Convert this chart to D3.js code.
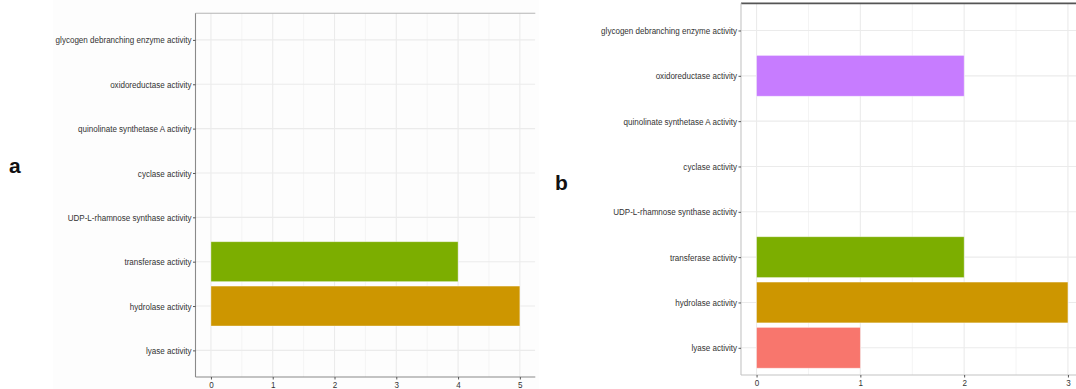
<!DOCTYPE html>
<html>
<head>
<meta charset="utf-8">
<script src="https://cdn.jsdelivr.net/npm/d3@7"></script>
<style>
  html, body { margin: 0; padding: 0; background: #ffffff; }
  svg { display: block; }
  text { font-family: "Liberation Sans", Arial, sans-serif; }
</style>
</head>
<body>
<svg id="chart" width="1076" height="389"></svg>
<script>
// GO molecular-function categories, bottom to top
const categories = [
  "lyase activity",
  "hydrolase activity",
  "transferase activity",
  "UDP-L-rhamnose synthase activity",
  "cyclase activity",
  "quinolinate synthetase A activity",
  "oxidoreductase activity",
  "glycogen debranching enzyme activity"
];
// gene counts per category
const countsA = [0, 5, 4, 0, 0, 0, 0, 0];
const countsB = [1, 3, 2, 0, 0, 0, 2, 0];
const ticksA = [0, 1, 2, 3, 4, 5];
const ticksB = [0, 1, 2, 3];
const panelLabels = ["a", "b"];
// default discrete hue palette, one colour per category
const palette = ["#F8766D", "#CD9600", "#7CAE00", "#00BE67", "#00BFC4", "#00A9FF", "#C77CFF", "#FF61CC"];

const svg = d3.select("#chart");

// faint backdrop of the left figure
svg.append("rect").attr("x", 53).attr("y", 0).attr("width", 486).attr("height", 389).attr("fill", "#fdfdfd");

function drawPanel(o) {
  const g = svg.append("g");
  const x = d3.scaleLinear().domain(o.xDomain).range([o.left, o.right]);
  const y = d3.scalePoint().domain(categories).range([o.bottom, o.top]).padding(0.6);
  const color = d3.scaleOrdinal().domain(categories).range(palette);
  const bandH = y.step() * 0.9;

  const clipId = "clip-" + o.name;
  svg.append("clipPath").attr("id", clipId)
    .append("rect").attr("x", o.left).attr("y", o.top)
    .attr("width", o.right - o.left).attr("height", o.bottom - o.top);

  const plot = g.append("g").attr("clip-path", `url(#${clipId})`);

  // minor vertical grid at half steps
  const minor = d3.range(o.ticks[0] - 0.5, o.ticks[o.ticks.length - 1] + 1, 1);
  plot.selectAll(".minor").data(minor).join("line")
    .attr("x1", d => x(d)).attr("x2", d => x(d))
    .attr("y1", o.top).attr("y2", o.bottom)
    .attr("stroke", "#f4f4f4").attr("stroke-width", 1);
  // major vertical grid
  plot.selectAll(".major").data(o.ticks).join("line")
    .attr("x1", d => x(d)).attr("x2", d => x(d))
    .attr("y1", o.top).attr("y2", o.bottom)
    .attr("stroke", "#ebebeb").attr("stroke-width", 1.1);
  // horizontal grid at each category
  plot.selectAll(".hgrid").data(categories).join("line")
    .attr("x1", o.left).attr("x2", o.right)
    .attr("y1", d => y(d)).attr("y2", d => y(d))
    .attr("stroke", "#ebebeb").attr("stroke-width", 1.1);

  // bars
  const rows = categories.map((c, i) => ({ cat: c, value: o.values[i] })).filter(d => d.value > 0);
  plot.selectAll(".bar").data(rows).join("rect")
    .attr("x", x(0))
    .attr("y", d => y(d.cat) - bandH / 2)
    .attr("width", d => x(d.value) - x(0))
    .attr("height", bandH)
    .attr("fill", d => color(d.cat))
    .attr("stroke", "#ffffff").attr("stroke-opacity", 0.45).attr("stroke-width", 0.8);

  // top border
  g.append("line")
    .attr("x1", o.left).attr("x2", o.right)
    .attr("y1", o.top).attr("y2", o.top)
    .attr("stroke", o.topColor).attr("stroke-width", o.topWidth);

  // left axis
  const yAxis = d3.axisLeft(y).tickSize(2.5).tickPadding(1.5);
  const ya = g.append("g").attr("transform", `translate(${o.left},0)`).call(yAxis);
  ya.select(".domain").attr("stroke", o.axisColor).attr("stroke-width", 1.1)
    .attr("d", `M0,${o.top}V${o.bottom}`);
  ya.selectAll(".tick line").attr("stroke", "#555");
  const labels = ya.selectAll(".tick text")
    .attr("font-size", 9.5).attr("fill", "#333");
  // narrow the labels horizontally so the longest one spans labelWidth
  let widest = 0;
  labels.each(function () { widest = Math.max(widest, this.getComputedTextLength()); });
  const squeeze = o.labelWidth / widest;
  labels.each(function () {
    const t = d3.select(this);
    const xx = +t.attr("x");
    t.attr("transform", `translate(${xx},0) scale(${squeeze},1) translate(${-xx},0)`);
  });

  // bottom axis
  const xAxis = d3.axisBottom(x).tickValues(o.ticks).tickFormat(d3.format("d")).tickSize(2.5).tickPadding(2);
  const xa = g.append("g").attr("transform", `translate(0,${o.bottom})`).call(xAxis);
  xa.select(".domain").attr("stroke", o.axisColor).attr("stroke-width", 1.1)
    .attr("d", `M${o.left},0H${o.right}`);
  xa.selectAll(".tick line").attr("stroke", "#555");
  xa.selectAll(".tick text").attr("font-size", 9.5).attr("fill", "#333")
    .attr("transform", "scale(0.85,1)");
}

drawPanel({
  name: "a", values: countsA, ticks: ticksA,
  xDomain: [-0.25, 5.25], left: 195.5, right: 535.3, top: 13.3, bottom: 377,
  topColor: "#b5b5b5", topWidth: 1.1, axisColor: "#8a8a8a", labelWidth: 136
});
drawPanel({
  name: "b", values: countsB, ticks: ticksB,
  xDomain: [-0.15, 3.15], left: 741, right: 1083.5, top: 3.3, bottom: 375,
  topColor: "#555555", topWidth: 1.8, axisColor: "#c4c4c4", labelWidth: 136
});

// panel letters
svg.append("text").attr("x", 9).attr("y", 173).text(panelLabels[0])
  .attr("font-family", "'DejaVu Sans', sans-serif").attr("font-weight", "bold")
  .attr("font-size", 21).attr("fill", "#111");
svg.append("text").attr("x", 555).attr("y", 190).text(panelLabels[1])
  .attr("font-family", "'DejaVu Sans', sans-serif").attr("font-weight", "bold")
  .attr("font-size", 21).attr("fill", "#111");
</script>
</body>
</html>
